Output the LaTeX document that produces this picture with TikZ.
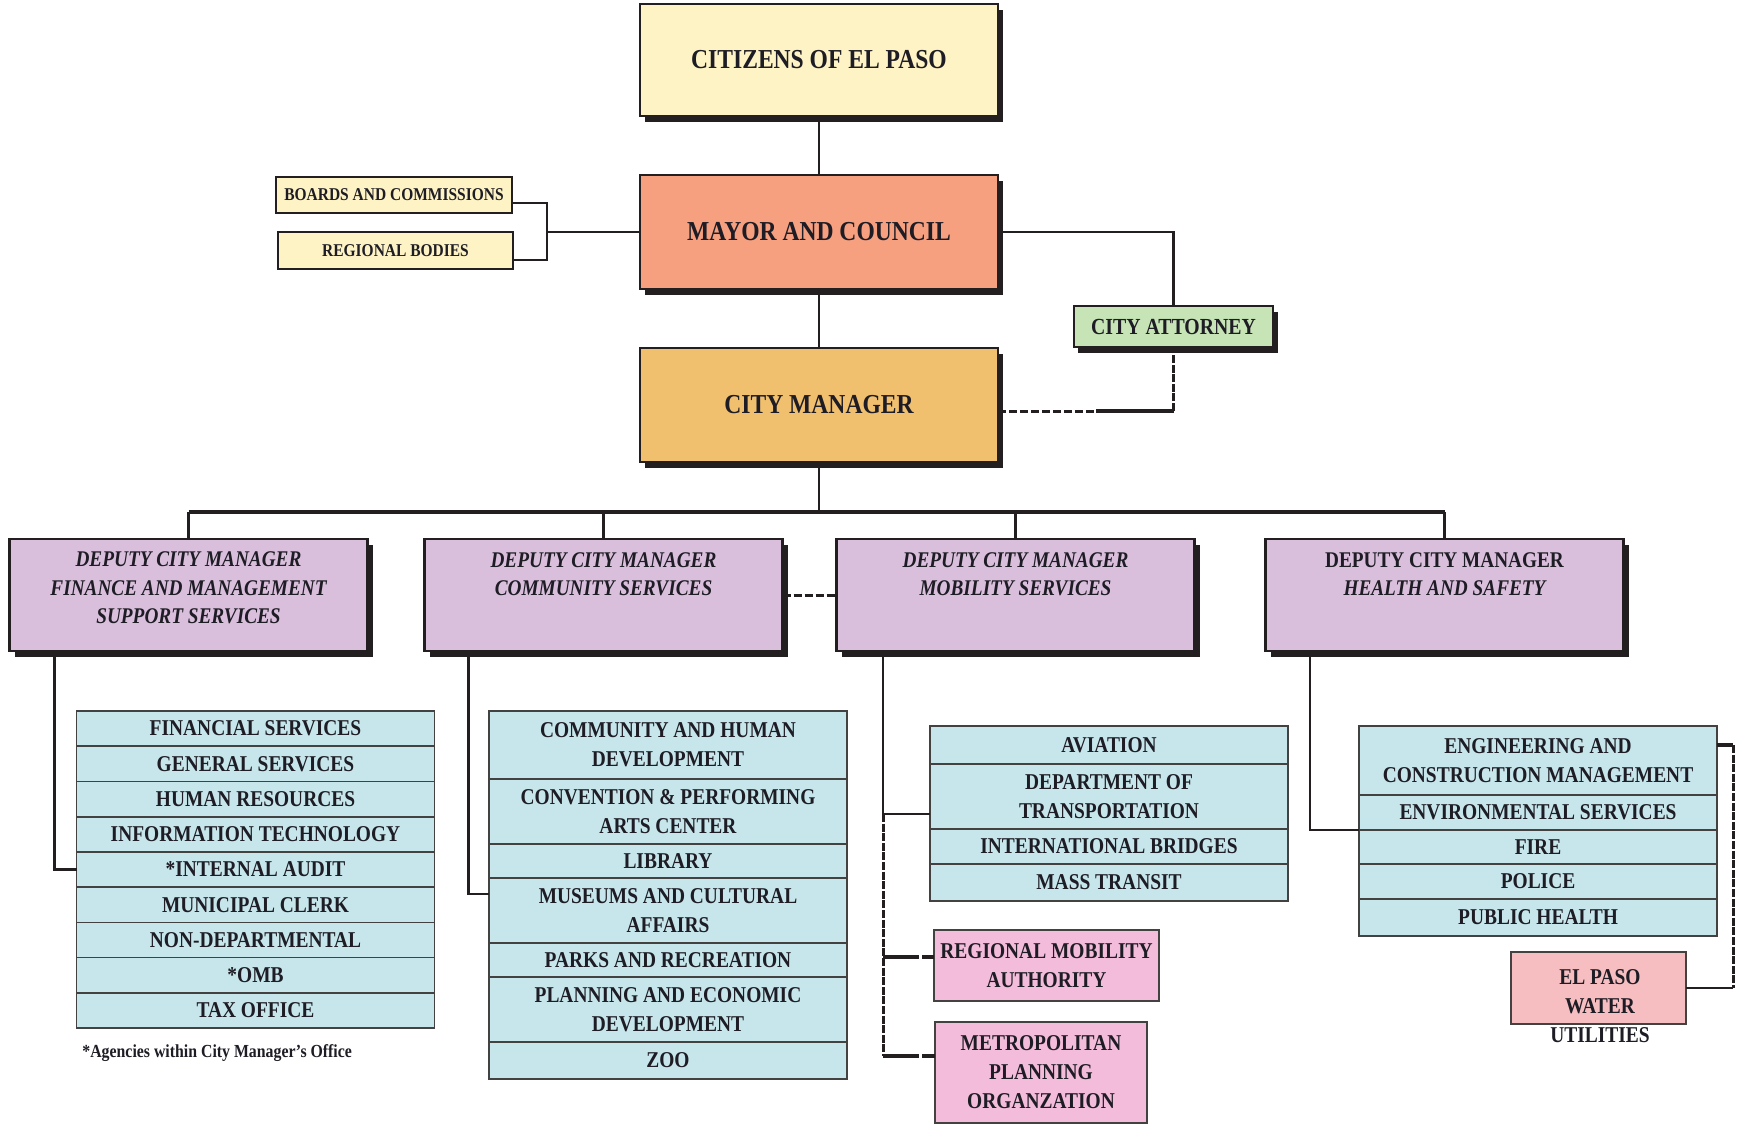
\documentclass[tikz,border=0pt]{standalone}
\usepackage{fontspec}
\setmainfont{Liberation Serif}[FakeStretch=0.86]
\usetikzlibrary{shadows,calc}
\definecolor{edgec}{HTML}{231F20}
\definecolor{txtc}{HTML}{1E1C24}
\definecolor{shadc}{HTML}{231F20}
\definecolor{citc}{HTML}{FEF3C4}
\definecolor{mayc}{HTML}{F6A080}
\definecolor{cmc}{HTML}{F1C06E}
\definecolor{attc}{HTML}{C6E4B6}
\definecolor{dcmc}{HTML}{D9BFDC}
\definecolor{listc}{HTML}{C6E6EB}
\definecolor{pinkc}{HTML}{F3BCDA}
\definecolor{epc}{HTML}{F6BEC0}
\begin{document}
\begin{tikzpicture}[x=0.5pt,y=-0.5pt,
  bigbox/.style={draw=edgec, line width=1.3pt, inner sep=0pt, outer sep=0pt, text=txtc,
    drop shadow={shadow xshift=2.5pt,shadow yshift=-3pt,fill=shadc,opacity=1}},
  titlefont/.style={font=\fontsize{13.7}{16}\selectfont\bfseries},
  smallbox/.style={draw=edgec, line width=0.8pt, inner sep=0pt, outer sep=0pt, text=txtc,
    align=center, font=\fontsize{9}{11}\selectfont\bfseries},
  rowbox/.style={draw=edgec!85, line width=0.8pt, fill=listc, inner sep=0pt, outer sep=0pt,
    minimum width=179pt, align=center, font=\fontsize{11.3}{14.5}\selectfont\bfseries, text=txtc},
  rowtext/.style={inner sep=0pt, align=center, font=\fontsize{11.3}{14.5}\selectfont\bfseries, text=txtc},
  dcmbox/.style={bigbox, fill=dcmc, minimum width=179pt, minimum height=56pt},
  dcmtext/.style={inner sep=0pt, align=center, font=\fontsize{11.2}{14.25}\selectfont\bfseries\itshape, text=txtc},
  conn/.style={draw=edgec, line width=1.4pt},
  dashline/.style={draw=edgec, line width=1.5pt, dash pattern=on 4pt off 1.5pt},
  dotline/.style={draw=edgec, line width=1.5pt, dash pattern=on 4pt off 0.8pt},
  brline/.style={draw=edgec, line width=1.7pt, dash pattern=on 18pt off 1.5pt}
]
\useasboundingbox (0,0) rectangle (1738,1126);
\fill[white] (0,0) rectangle (1738,1126);

% top boxes
\node[bigbox, fill=citc, minimum width=179pt, minimum height=56pt, titlefont] (cit) at (819,60) {CITIZENS OF EL PASO};
\node[bigbox, fill=mayc, minimum width=179pt, minimum height=57pt, titlefont] (may) at (819,232) {MAYOR AND COUNCIL};
\node[bigbox, fill=cmc, minimum width=179pt, minimum height=57pt, titlefont] (cm) at (819,405) {CITY MANAGER};
\node[bigbox, line width=0.8pt, fill=attc, minimum width=99.5pt, minimum height=20.5pt,
  font=\fontsize{11.5}{13}\selectfont\bfseries,
  drop shadow={shadow xshift=2pt,shadow yshift=-3pt,fill=shadc,opacity=1}] (att) at (1173.5,326.5) {CITY ATTORNEY};
\node[smallbox, fill=citc, minimum width=118pt, minimum height=18pt] (bc) at (394,195) {BOARDS AND COMMISSIONS};
\node[smallbox, fill=citc, minimum width=117.5pt, minimum height=18.5pt] (rb) at (395.5,250.5) {REGIONAL BODIES};

% deputy boxes
\node[dcmbox] (d1) at (188.5,595) {};
\node[dcmbox] (d2) at (603.5,595) {};
\node[dcmbox] (d3) at (1015.5,595) {};
\node[dcmbox] (d4) at (1444.5,595) {};
\node[dcmtext] (d1t) at ($(d1.north)+(0,49)$) {DEPUTY CITY MANAGER\\FINANCE AND MANAGEMENT\\SUPPORT SERVICES};
\node[dcmtext] (d2t) at ($(d2.north)+(0,35)$) {DEPUTY CITY MANAGER\\COMMUNITY SERVICES};
\node[dcmtext] (d3t) at ($(d3.north)+(0,35)$) {DEPUTY CITY MANAGER\\MOBILITY SERVICES};
\node[dcmtext] (d4t) at ($(d4.north)+(0,35)$) {{\upshape DEPUTY CITY MANAGER}\\HEALTH AND SAFETY};

% list 1
\node[rowbox, minimum height=17.61pt] (fin1) at (255.5,728.6) {FINANCIAL SERVICES};
\node[rowbox, minimum height=17.61pt] (fin2) at (255.5,763.8) {GENERAL SERVICES};
\node[rowbox, minimum height=17.61pt] (fin3) at (255.5,799.1) {HUMAN RESOURCES};
\node[rowbox, minimum height=17.61pt] (fin4) at (255.5,834.3) {INFORMATION TECHNOLOGY};
\node[rowbox, minimum height=17.61pt] (fin5) at (255.5,869.5) {*INTERNAL AUDIT};
\node[rowbox, minimum height=17.61pt] (fin6) at (255.5,904.7) {MUNICIPAL CLERK};
\node[rowbox, minimum height=17.61pt] (fin7) at (255.5,939.9) {NON-DEPARTMENTAL};
\node[rowbox, minimum height=17.61pt] (fin8) at (255.5,975.2) {*OMB};
\node[rowbox, minimum height=17.61pt] (fin9) at (255.5,1010.4) {TAX OFFICE};
\node[inner sep=0pt, anchor=west, font=\fontsize{9.2}{11}\selectfont\bfseries, text=txtc] (note) at (82,1053) {*Agencies within City Manager's Office};

% list 2
\node[rowbox, minimum height=34pt] (chd) at (668,745) {COMMUNITY AND HUMAN\\DEVELOPMENT};
\node[rowbox, minimum height=32.5pt] (cpa) at (668,811.5) {CONVENTION \& PERFORMING\\ARTS CENTER};
\node[rowbox, minimum height=17pt] (lib) at (668,861) {LIBRARY};
\node[rowbox, minimum height=32.5pt] (mus) at (668,910.5) {MUSEUMS AND CULTURAL\\AFFAIRS};
\node[rowbox, minimum height=17pt] (prk) at (668,960) {PARKS AND RECREATION};
\node[rowbox, minimum height=32.5pt] (pla) at (668,1009.5) {PLANNING AND ECONOMIC\\DEVELOPMENT};
\node[rowbox, minimum height=18.5pt] (zoo) at (668,1060.5) {ZOO};

% list 3
\node[rowbox, minimum height=19pt] (avi) at (1109,745) {AVIATION};
\node[rowbox, minimum height=32.5pt] (dot) at (1109,796.5) {DEPARTMENT OF\\TRANSPORTATION};
\node[rowbox, minimum height=17.5pt] (ibr) at (1109,846.5) {INTERNATIONAL BRIDGES};
\node[rowbox, minimum height=18.5pt] (mtr) at (1109,882.5) {MASS TRANSIT};
\node[rowbox, fill=pinkc, minimum width=112.5pt, minimum height=35.5pt] (rma) at (1046.5,965.5) {REGIONAL MOBILITY\\AUTHORITY};
\node[rowbox, fill=pinkc, minimum width=106pt, minimum height=50.5pt] (mpo) at (1041,1072.5) {METROPOLITAN\\PLANNING\\ORGANZATION};

% list 4
\node[rowbox, minimum height=34.5pt] (ecm) at (1538,760.5) {ENGINEERING AND\\CONSTRUCTION MANAGEMENT};
\node[rowbox, minimum height=17.5pt] (env) at (1538,812.5) {ENVIRONMENTAL SERVICES};
\node[rowbox, minimum height=17pt] (fir) at (1538,847) {FIRE};
\node[rowbox, minimum height=17.5pt] (pol) at (1538,881.5) {POLICE};
\node[rowbox, minimum height=18.5pt] (phl) at (1538,917.5) {PUBLIC HEALTH};
\node[rowbox, fill=epc, minimum width=87.5pt, minimum height=36pt] (epw) at (1598.5,988) {};
\node[rowtext] (epwt) at (1600,1006) {EL PASO\\WATER\\UTILITIES};

% connectors top
\draw[conn] (cit.south) -- (may.north);
\draw[conn] (may.south) -- (cm.north);
\draw[conn] (may.east) -| (att.north);
\coordinate (cme) at ($(cm.east)+(0,6)$);
\coordinate (cmm) at ($(cme)+(98,0)$);
\draw[dashline] (cme) -- (cmm);
\draw[conn, line width=1.6pt] (cmm) -- (att.south |- cme);
\draw[dotline] (att.south |- cme) -- (att.south);
\coordinate (brk) at ($(may.west)+(-93,0)$);
\draw[conn] ($(bc.east)+(0,8)$) -| (brk) |- ($(rb.east)+(0,9.5)$);
\draw[conn] (brk) -- (may.west);

% bus
\coordinate (bus) at ($(cm.south)+(0,50)$);
\draw[conn] (cm.south) -- (bus);
\draw[conn, line width=1.9pt] (d1.north |- bus) -- (d4.north |- bus);
\foreach \d in {d1,d2,d3,d4} \draw[conn, line width=1.1pt] (\d.north |- bus) -- (\d.north);
\draw[dashline] (d2.east) -- (d3.west);

% list connectors
\draw[conn] ($(d1.south west)+(45,0)$) |- (fin5.west);
\draw[conn] ($(d2.south west)+(44,0)$) |- ($(mus.west)+(0,-16.5)$);
\coordinate (j3) at ($(d3.south west)+(46.5,0)$);
\coordinate (t3) at ($(dot.west)+(0,17.5)$);
\draw[conn] (j3) |- (t3);
\coordinate (r3) at ($(rma.west)+(0,-8.5)$);
\coordinate (p3) at ($(mpo.west)+(0,-16.5)$);
\draw[dotline] (j3 |- t3) -- (j3 |- p3);
\draw[brline] (j3 |- r3) -- (r3);
\draw[brline] (j3 |- p3) -- (p3);
\coordinate (j4) at ($(d4.south west)+(44.5,0)$);
\draw[conn] (j4) |- (env.south west);
\coordinate (e1) at ($(ecm.east)+(0,-15.5)$);
\coordinate (e2) at ($(e1)+(16,0)$);
\draw[conn, line width=1.7pt] (e1) -- (e2);
\draw[dotline] (e2) -- (e2 |- epw.east);
\draw[conn] (e2 |- epw.east) -- (epw.east);
\end{tikzpicture}
\end{document}
